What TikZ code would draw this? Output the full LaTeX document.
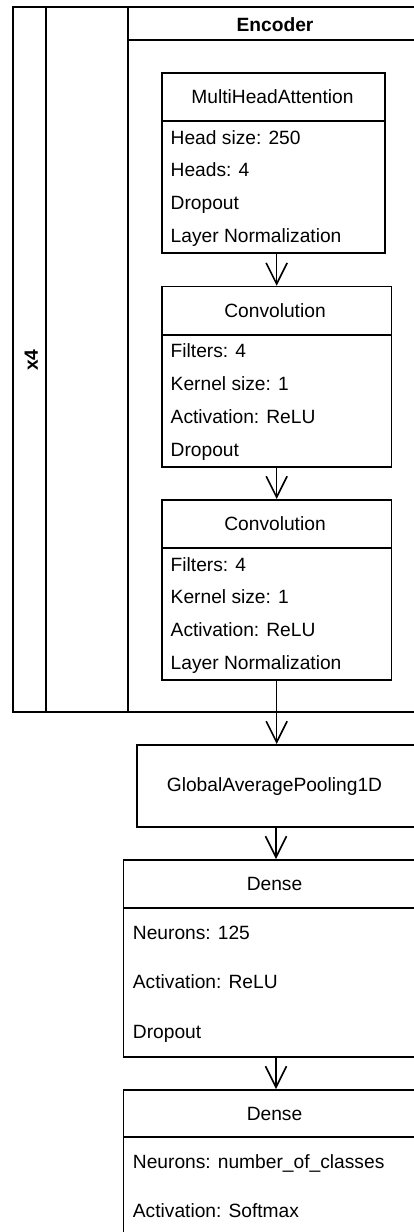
\documentclass[tikz,border=0pt]{standalone}
\usepackage{fontspec}
\setmainfont{Liberation Sans}
\usetikzlibrary{arrows.meta}
\newcommand{\dfont}{\fontsize{19.2}{23}\selectfont}
\begin{document}
\begin{tikzpicture}[x=1pt,y=-1pt,
  frame/.style={line width=1.6pt},
  box/.style={draw, line width=1.6pt, anchor=north west, inner sep=0pt},
  lbl/.style={font=\dfont, inner sep=0pt, text height=13.7pt, text depth=0pt},
  blbl/.style={lbl, font=\dfont\bfseries},
  item/.style={lbl, anchor=west},
  flow/.style={line width=1.6pt, -{Straight Barb[length=21pt,width=21pt]}},
]
\useasboundingbox (0,0) rectangle (414,1232);
\clip (0,0) rectangle (414,1232);
\fill[white] (0,0) rectangle (414,1232);
% outer frame (x4 / encoder lanes)
\draw[frame] (440,7) -- (13,7) -- (13,712) -- (440,712);
\draw[frame] (46,7) -- (46,712);
\draw[frame] (128,7) -- (128,712);
\draw[frame] (128,40) -- (440,40);
\node[blbl] (enc) at (275,25) {Encoder};
\node[blbl, rotate=90] (x4) at (31,360) {x4};

% MultiHeadAttention
\node[box, minimum width=223pt, minimum height=180pt] (mha) at (161,72) {};
\draw[frame] (161,121) -- (384,121);
\node[lbl] (mhat) at (272.5,96.5) {MultiHeadAttention};
\node[item] (mha1) at (170.5,137.4) {Head size: 250};
\node[item] (mha2) at (170.5,170.1) {Heads: 4};
\node[item] (mha3) at (170.5,202.9) {Dropout};
\node[item] (mha4) at (170.5,235.6) {Layer Normalization};

% Convolution 1
\node[box, minimum width=229.7pt, minimum height=180.3pt] (conv1) at (161,285.7) {};
\draw[frame] (161,334.7) -- (390.7,334.7);
\node[lbl] (c1t) at (275,310.2) {Convolution};
\node[item] (c1a) at (170.5,351.1) {Filters: 4};
\node[item] (c1b) at (170.5,383.9) {Kernel size: 1};
\node[item] (c1c) at (170.5,416.6) {Activation: ReLU};
\node[item] (c1d) at (170.5,449.4) {Dropout};

% Convolution 2
\node[box, minimum width=229.7pt, minimum height=180pt] (conv2) at (161,499) {};
\draw[frame] (161,548) -- (390.7,548);
\node[lbl] (c2t) at (275,523.5) {Convolution};
\node[item] (c2a) at (170.5,564.4) {Filters: 4};
\node[item] (c2b) at (170.5,597.1) {Kernel size: 1};
\node[item] (c2c) at (170.5,629.9) {Activation: ReLU};
\node[item] (c2d) at (170.5,662.6) {Layer Normalization};

% GlobalAveragePooling1D
\node[box, minimum width=280pt, minimum height=82pt] (gap) at (136,744) {};
\node[lbl] (gapt) at (274.5,785) {GlobalAveragePooling1D};

% Dense 1
\node[box, minimum width=305pt, minimum height=197pt] (d1) at (122.7,859) {};
\draw[frame] (122.7,908) -- (430,908);
\node[lbl] (d1t) at (274.5,883.8) {Dense};
\node[item] (d1a) at (132.7,932.7) {Neurons: 125};
\node[item] (d1b) at (132.7,982) {Activation: ReLU};
\node[item] (d1c) at (132.7,1031.3) {Dropout};

% Dense 2
\node[box, minimum width=305pt, minimum height=200pt] (d2) at (122.7,1089) {};
\draw[frame] (122.7,1137) -- (430,1137);
\node[lbl] (d2t) at (274.5,1113.5) {Dense};
\node[item] (d2a) at (132.7,1161.7) {Neurons: number\_of\_classes};
\node[item] (d2b) at (132.7,1211) {Activation: Softmax};

% connectors
\draw[flow] (mha.south -| conv1.north) -- (conv1.north);
\draw[flow] (conv1.south) -- (conv2.north);
\draw[flow] (conv2.south) -- (conv2.south |- gap.north);
\draw[flow] (gap.south -| d1.north) -- (d1.north);
\draw[flow] (d1.south) -- (d2.north);
\end{tikzpicture}
\end{document}
